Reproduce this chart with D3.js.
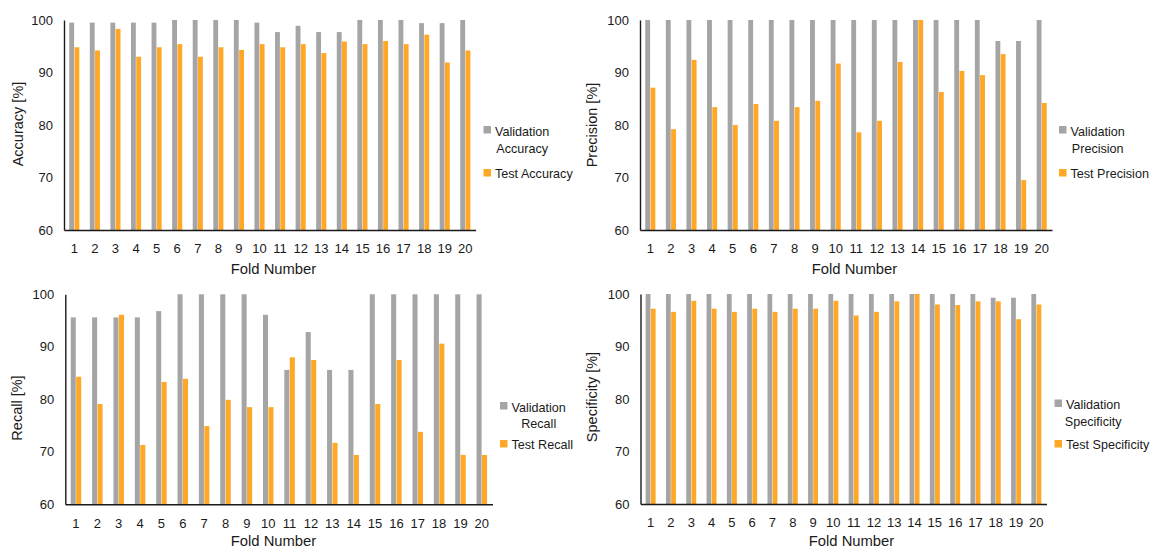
<!DOCTYPE html>
<html>
<head>
<meta charset="utf-8">
<script src="https://cdn.jsdelivr.net/npm/d3@7"></script>
<style>
  html, body { margin: 0; padding: 0; background: #fff; }
  svg { display: block; font-family: "Liberation Sans", Arial, sans-serif; }
</style>
</head>
<body>
<svg id="chart" width="1153" height="549"></svg>
<script>
// ---------- data ----------
const folds = ["1","2","3","4","5","6","7","8","9","10","11","12","13","14","15","16","17","18","19","20"];
const yTicks = [60, 70, 80, 90, 100];
const seriesKeys = ["Validation", "Test"];

const valAccuracy  = [99.5, 99.5, 99.5, 99.5, 99.5, 100, 100, 100, 100, 99.5, 97.7, 98.9, 97.7, 97.7, 100, 100, 100, 99.4, 99.4, 100];
const testAccuracy = [94.8, 94.2, 98.3, 93.0, 94.8, 95.4, 93.0, 94.8, 94.3, 95.4, 94.8, 95.4, 93.7, 95.9, 95.4, 96.0, 95.4, 97.2, 91.9, 94.2];

const valPrecision  = [100, 100, 100, 100, 100, 100, 100, 100, 100, 100, 100, 100, 100, 100, 100, 100, 100, 96.0, 96.0, 100];
const testPrecision = [87.1, 79.2, 92.4, 83.4, 80.0, 84.0, 80.8, 83.4, 84.6, 91.7, 78.6, 80.8, 92.0, 100, 86.3, 90.3, 89.5, 93.5, 69.5, 84.2];

const valRecall  = [95.6, 95.6, 95.6, 95.6, 96.8, 100, 100, 100, 100, 96.1, 85.6, 92.8, 85.6, 85.6, 100, 100, 100, 100, 100, 100];
const testRecall = [84.3, 79.1, 96.1, 71.3, 83.3, 83.9, 74.9, 79.9, 78.5, 78.5, 88.0, 87.5, 71.7, 69.4, 79.1, 87.5, 73.8, 90.6, 69.4, 69.4];

const valSpecificity  = [100, 100, 100, 100, 100, 100, 100, 100, 100, 100, 100, 100, 100, 100, 100, 100, 100, 99.3, 99.3, 100];
const testSpecificity = [97.2, 96.6, 98.7, 97.2, 96.6, 97.2, 96.6, 97.2, 97.2, 98.7, 95.9, 96.6, 98.6, 100, 98.0, 97.9, 98.6, 98.6, 95.2, 98.0];

const metricNames = ["Accuracy", "Precision", "Recall", "Specificity"];
const xTitle = "Fold Number";

// ---------- layout (positions / styles) ----------
const colors = { Validation: "#A5A5A5", Test: "#FFA726" };
const axisColor = "#1a1a1a";
const textColor = "#1a1a1a";

const panels = [
  { name: "Accuracy",    val: valAccuracy,    test: testAccuracy,    x0: 64,    x1: 475.6,  yTop: 20,    yBot: 230,   yTitleX: 23,  yTitleY: 124, xTitleX: 273.5, xTitleY: 274,
    legX: 483.5, legY: 126, legLine2: 152.5, legTestY: 169 },
  { name: "Precision",   val: valPrecision,   test: testPrecision,   x0: 640,   x1: 1052,   yTop: 20,    yBot: 230,   yTitleX: 597, yTitleY: 125, xTitleX: 854.5, xTitleY: 274,
    legX: 1059,  legY: 126, legLine2: 152.5, legTestY: 169 },
  { name: "Recall",      val: valRecall,      test: testRecall,      x0: 65.3,  x1: 492.5,  yTop: 294.3, yBot: 504.3, yTitleX: 22,  yTitleY: 408, xTitleX: 273.5, xTitleY: 546,
    legX: 500,   legY: 402, legLine2: 427.5, legTestY: 440 },
  { name: "Specificity", val: valSpecificity, test: testSpecificity, x0: 640.5, x1: 1046.5, yTop: 294,   yBot: 504,   yTitleX: 597, yTitleY: 397, xTitleX: 851.5, xTitleY: 546,
    legX: 1054.5, legY: 399.5, legLine2: 425.5, legTestY: 440 }
];

const svg = d3.select("#chart");

panels.forEach(p => {
  const g = svg.append("g");

  const x = d3.scaleBand()
    .domain(folds)
    .range([p.x0, p.x1])
    .paddingInner(0.49)
    .paddingOuter(0.245);

  const xs = d3.scaleBand()
    .domain(seriesKeys)
    .range([0, x.bandwidth()])
    .padding(0);

  const y = d3.scaleLinear()
    .domain([d3.min(yTicks), d3.max(yTicks)])
    .range([p.yBot, p.yTop]);

  const rows = folds.map((f, i) => ({ fold: f, Validation: p.val[i], Test: p.test[i] }));

  // bars
  const grp = g.append("g").selectAll("g")
    .data(rows)
    .join("g")
    .attr("transform", d => `translate(${x(d.fold)},0)`);

  grp.selectAll("rect")
    .data(d => seriesKeys.map(k => ({ key: k, value: d[k] })))
    .join("rect")
    .attr("x", d => xs(d.key) + 0.2)
    .attr("width", xs.bandwidth() - 0.4)
    .attr("y", d => y(d.value))
    .attr("height", d => y(y.domain()[0]) - y(d.value))
    .attr("fill", d => colors[d.key]);

  // y axis
  const yAxis = g.append("g")
    .attr("transform", `translate(${p.x0},0)`)
    .call(d3.axisLeft(y).tickValues(yTicks).tickSize(0).tickSizeOuter(0).tickPadding(11));
  yAxis.select(".domain").attr("stroke", axisColor).attr("stroke-width", 1.4);
  yAxis.selectAll("text").attr("fill", textColor).style("font-size", "13px");

  // x axis
  const xAxis = g.append("g")
    .attr("transform", `translate(0,${p.yBot})`)
    .call(d3.axisBottom(x).tickSize(0).tickSizeOuter(0).tickPadding(14));
  xAxis.select(".domain").attr("stroke", axisColor).attr("stroke-width", 1.6);
  xAxis.selectAll("text").attr("fill", textColor).style("font-size", "13px");

  // axis titles
  g.append("text")
    .attr("transform", `translate(${p.yTitleX},${p.yTitleY}) rotate(-90)`)
    .attr("text-anchor", "middle")
    .attr("fill", textColor)
    .style("font-size", "14.5px")
    .text(`${p.name} [%]`);

  g.append("text")
    .attr("x", p.xTitleX)
    .attr("y", p.xTitleY)
    .attr("text-anchor", "middle")
    .attr("fill", textColor)
    .style("font-size", "14.8px")
    .text(xTitle);

  // legend
  const leg = g.append("g");
  const sq = 7.5;
  const textX = p.legX + 11.5;
  leg.append("rect")
    .attr("x", p.legX).attr("y", p.legY)
    .attr("width", sq).attr("height", sq)
    .attr("fill", colors.Validation);
  const t1 = leg.append("text")
    .attr("x", textX).attr("y", p.legY + 9.5)
    .attr("fill", textColor)
    .style("font-size", "12.6px")
    .text(seriesKeys[0]);
  const w1 = t1.node().getComputedTextLength();
  leg.append("text")
    .attr("x", textX + w1 / 2).attr("y", p.legLine2)
    .attr("text-anchor", "middle")
    .attr("fill", textColor)
    .style("font-size", "12.6px")
    .text(p.name);
  leg.append("rect")
    .attr("x", p.legX).attr("y", p.legTestY)
    .attr("width", sq).attr("height", sq)
    .attr("fill", colors.Test);
  leg.append("text")
    .attr("x", textX).attr("y", p.legTestY + 8.5)
    .attr("fill", textColor)
    .style("font-size", "12.6px")
    .text(`${seriesKeys[1]} ${p.name}`);
});
</script>
</body>
</html>
